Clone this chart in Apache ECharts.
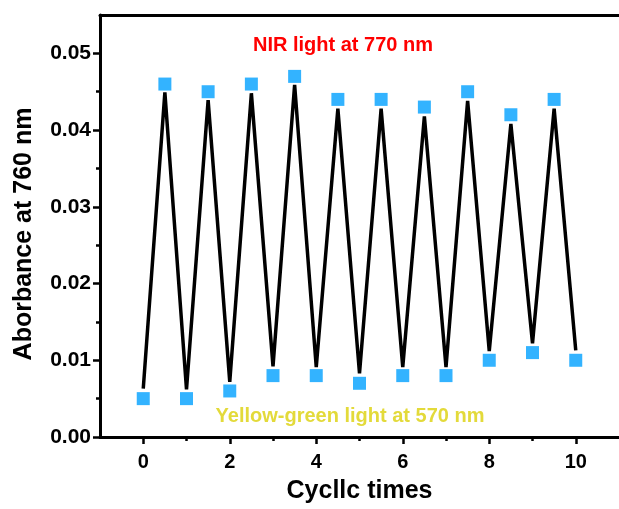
<!DOCTYPE html>
<html>
<head>
<meta charset="utf-8">
<script src="https://cdn.jsdelivr.net/npm/echarts@6/dist/echarts.min.js"></script>
<style>html,body{margin:0;padding:0;background:#fff}#c{width:619px;height:509px}</style>
</head>
<body>
<div id="c"></div>
<script>
// cycle positions (half cycles)
var cycles = [0,0.5,1,1.5,2,2.5,3,3.5,4,4.5,5,5.5,6,6.5,7,7.5,8,8.5,9,9.5,10];
// measured absorbance (square markers)
var absorbance = [0.005,0.046,0.005,0.045,0.006,0.046,0.008,0.047,0.008,0.044,0.007,0.044,0.008,0.043,0.008,0.045,0.010,0.042,0.011,0.044,0.010];
// connecting line (drawn with gap to symbols, as in the original)
var lineValues = [0.0063,0.0449,0.0062,0.0439,0.0072,0.0448,0.0092,0.0459,0.0091,0.0428,0.0083,0.0428,0.0091,0.0418,0.0091,0.0438,0.0112,0.0408,0.0122,0.0428,0.0113];
var xTicks = [0,2,4,6,8,10];
var xMinorTicks = [1,3,5,7,9];
var yTicks = [0,0.01,0.02,0.03,0.04,0.05];
var yMinorTicks = [0.005,0.015,0.025,0.035,0.045];
var xTitle = 'Cycllc times';
var yTitle = 'Aborbance at 760 nm';
var nirLabel = 'NIR light at 770 nm';
var ygLabel = 'Yellow-green light at 570 nm';

var FONT = '"Liberation Sans", Arial, sans-serif';
var chart = echarts.init(document.getElementById('c'));
var pairs = function(xs, ys){ return xs.map(function(x,i){return [x, ys[i]];}); };
var axisLine = {show:true, onZero:false, lineStyle:{color:'#000', width:3}};
chart.setOption({
  animation:false,
  grid:{left:100, top:15, right:-5, bottom:72},
  xAxis:[
    {type:'value', position:'bottom', min:-1, max:11,
     axisLine:axisLine,
     axisTick:{show:true, inside:false, length:7, lineStyle:{width:2.5,color:'#000'}, customValues:xTicks},
     axisLabel:{show:true, margin:15, customValues:xTicks, color:'#000', fontSize:20, fontWeight:'bold', fontFamily:FONT},
     splitLine:{show:false},
     name:xTitle, nameLocation:'middle', nameGap:42,
     nameTextStyle:{color:'#000', fontSize:25, fontWeight:'bold', fontFamily:FONT}},
    {type:'value', position:'bottom', min:-1, max:11,
     axisLine:{show:false, onZero:false},
     axisTick:{show:true, length:4, lineStyle:{width:2.5,color:'#000'}, customValues:xMinorTicks},
     axisLabel:{show:false}, splitLine:{show:false}},
    {type:'value', position:'top', min:-1, max:11,
     axisLine:axisLine, axisTick:{show:false}, axisLabel:{show:false}, splitLine:{show:false}}
  ],
  yAxis:[
    {type:'value', position:'left', min:0, max:0.055,
     axisLine:axisLine,
     axisTick:{show:true, length:7, lineStyle:{width:2.5,color:'#000'}, customValues:yTicks},
     axisLabel:{show:true, margin:9, customValues:yTicks, color:'#000', fontSize:21, fontWeight:'bold', fontFamily:FONT,
       formatter:function(v){return v.toFixed(2);}},
     splitLine:{show:false}},
    {type:'value', position:'left', min:0, max:0.055,
     axisLine:{show:false, onZero:false},
     axisTick:{show:true, length:4, lineStyle:{width:2.5,color:'#000'}, customValues:yMinorTicks},
     axisLabel:{show:false}, splitLine:{show:false}}
  ],
  series:[
    {type:'line', data:pairs(cycles, lineValues), xAxisIndex:0, yAxisIndex:0,
     showSymbol:false, symbol:'none', lineStyle:{color:'#000', width:3.5}, z:2},
    {type:'scatter', data:pairs(cycles, absorbance), xAxisIndex:0, yAxisIndex:0,
     symbol:'rect', symbolSize:13, itemStyle:{color:'#00A0FF'}, z:3}
  ],
  graphic:[
    {type:'text', x:24, y:234, rotation:Math.PI/2,
     style:{text:yTitle, align:'center', verticalAlign:'middle', fill:'#000', font:'bold 25px ' + FONT}},
    {type:'text', style:{text:nirLabel, x:343, y:45, align:'center', verticalAlign:'middle',
      fill:'#FF0000', font:'bold 20px ' + FONT}},
    {type:'text', style:{text:ygLabel, x:350, y:416, align:'center', verticalAlign:'middle',
      fill:'#E3DA3A', font:'bold 20px ' + FONT}}
  ]
});
</script>
</body>
</html>
